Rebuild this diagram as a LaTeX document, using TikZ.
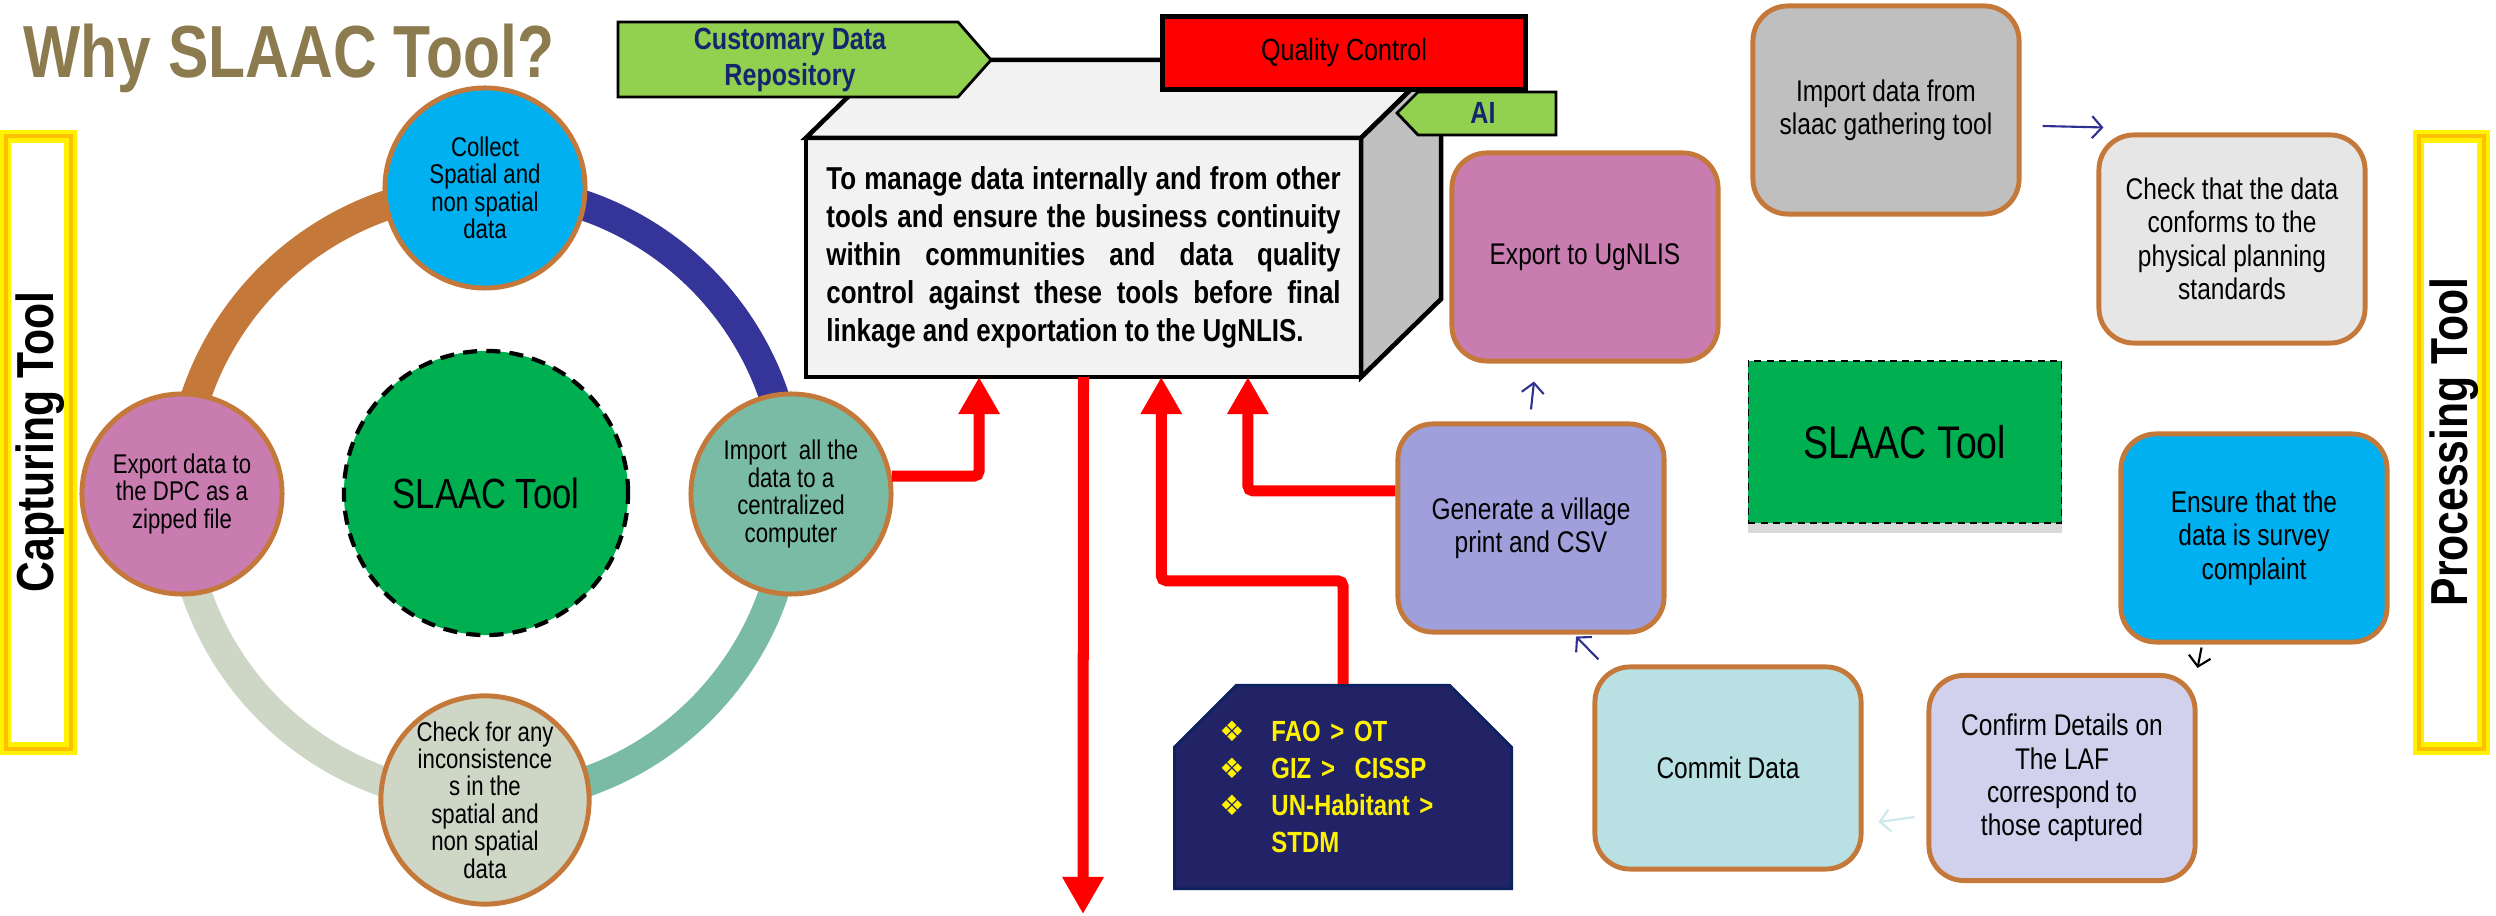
\documentclass[tikz,border=0pt]{standalone}
\usepackage{fontspec}
\setmainfont{Liberation Sans}[FakeStretch=0.82]
\newfontfamily\symfont{DejaVu Sans}
\usepackage{tikz}
\usetikzlibrary{arrows.meta,shapes.misc,shadows,calc}

\definecolor{rim}{RGB}{196,121,58}
\definecolor{navyarc}{RGB}{53,52,152}
\definecolor{tealc}{RGB}{122,187,165}
\definecolor{palec}{RGB}{206,214,198}
\definecolor{skyc}{RGB}{0,176,240}
\definecolor{pinkc}{RGB}{201,124,176}
\definecolor{grassc}{RGB}{0,176,80}
\definecolor{leafc}{RGB}{146,208,80}
\definecolor{inkc}{RGB}{20,38,110}
\definecolor{olivec}{RGB}{141,123,80}
\definecolor{graybox}{RGB}{191,191,191}
\definecolor{lightbox}{RGB}{230,230,230}
\definecolor{lilac}{RGB}{159,159,220}
\definecolor{aqua}{RGB}{185,224,226}
\definecolor{lavender}{RGB}{209,209,238}
\definecolor{listnavy}{RGB}{34,34,102}
\definecolor{listedge}{RGB}{14,34,96}
\definecolor{cubefront}{RGB}{242,242,242}
\definecolor{cubeside}{RGB}{192,192,192}
\definecolor{arrownavy}{RGB}{46,49,146}
\definecolor{mist}{RGB}{205,232,236}
\definecolor{goldc}{RGB}{255,192,0}

\newcommand{\bul}{\makebox[0.52cm][l]{\symfont\fontsize{8}{8}\selectfont ❖}}

\tikzset{
  ring/.style={line width=0.3cm},
  stepcirc/.style={circle,draw=rim,line width=1.4pt,minimum size=2cm,inner sep=0pt,align=center,
    font=\fontsize{7.7}{7.8}\selectfont},
  stepbox/.style={draw=rim,line width=1.4pt,rounded corners=0.35cm,minimum width=2.66cm,
    minimum height=2.08cm,align=center,font=\fontsize{8.5}{9.5}\selectfont},
  redline/.style={draw=red,line width=0.11cm,rounded corners=1.5pt,
    -{Triangle[width=0.39cm,length=0.37cm]}},
  thinarrow/.style={line width=0.6pt,-{Straight Barb[length=0.1cm,width=0.22cm]}},
  tagline/.style={draw=black,line width=0.8pt},
  tagtext/.style={text=inkc,align=center,font=\fontsize{8.7}{10}\selectfont\bfseries},
  cubeline/.style={draw=black,line width=1.3pt,line join=miter}
}

\begin{document}
\begin{tikzpicture}[x=0.01cm,y=-0.01cm]
    \useasboundingbox (0,0) rectangle (2496,916);
    \def\toolframe#1{\fill[yellow] (#1,130) rectangle ++(77,625);
      \draw[goldc,line width=1.2pt] (#1+6,136) rectangle ++(65,613);
      \fill[white] (#1+11,143) rectangle ++(53,599);}

    \node[anchor=base west,inner sep=0pt,text=olivec,font=\fontsize{21}{21}\selectfont\bfseries] (title) at (23,78) {Why SLAAC Tool?};

    \toolframe{0}
    \toolframe{2413}
    \node[rotate=90,font=\fontsize{14.8}{15}\selectfont\bfseries] (captool) at (40,442) {Capturing Tool};
    \node[rotate=90,font=\fontsize{14.8}{15}\selectfont\bfseries] (proctool) at (2454,442) {Processing Tool};

    \coordinate (hub) at (485,494);
    \draw[ring,rim] (hub) ++(180:305) arc[start angle=180,end angle=270,radius=305];
    \draw[ring,navyarc] (hub) ++(270:305) arc[start angle=270,end angle=360,radius=305];
    \draw[ring,tealc] (hub) ++(0:305) arc[start angle=0,end angle=90,radius=305];
    \draw[ring,palec] (hub) ++(90:305) arc[start angle=90,end angle=180,radius=305];

    \node[stepcirc,fill=skyc] (collect) at (485,188) {Collect\\Spatial and\\non spatial\\data};
    \node[stepcirc,fill=tealc] (importc) at (791,494) {Import\ \ all the\\data to a\\centralized\\computer};
    \node[stepcirc,fill=palec] (checkc) at (485,800) {Check for any\\inconsistence\\s in the\\spatial and\\non spatial\\data};
    \node[stepcirc,fill=pinkc] (exportc) at (182,494) {Export data to\\the DPC as a\\zipped file};
    \node[circle,draw=black,line width=1.2pt,dash pattern=on 4pt off 2.6pt,fill=grassc,minimum size=2.84cm,
      font=\fontsize{12}{12}\selectfont] (slaac) at (486,493) {SLAAC Tool};

    \node[cubeline,fill=cubefront,outer sep=0pt,minimum width=5.55cm,minimum height=2.39cm,text width=5.14cm,
      align=justify,font=\fontsize{9}{10.8}\selectfont\bfseries] (box) at (1083.5,257.5)
      {To manage data internally and from other\linebreak tools and ensure the business continuity\linebreak
       within communities and data quality\linebreak control against these tools before final\linebreak
       linkage and exportation to the UgNLIS.};
    \draw[cubeline,fill=cubefront] (box.north west) -- ++(80,-78) -- ++(555,0) -- (box.north east) -- cycle;
    \draw[cubeline,fill=cubeside] (box.north east) -- ++(80,-78) -- ++(0,239) -- (box.south east) -- cycle;

    \draw[tagline,fill=leafc] (618,22) -- (958,22) -- (991,60) -- (958,97) -- (618,97) -- cycle;
    \node[tagtext] (cdr) at (790,60) {Customary Data\\Repository};
    \node[draw=black,line width=1.4pt,fill=red,minimum width=3.62cm,minimum height=0.73cm,
      font=\fontsize{8.7}{10}\selectfont] (qc) at (1344,53) {Quality Control};
    \draw[tagline,fill=leafc] (1397,113) -- (1418,92) -- (1556,92) -- (1556,135) -- (1418,135) -- cycle;
    \node[tagtext] (ai) at (1483,113) {AI};

    \node[stepbox,fill=graybox] (importd) at (1886,110) {Import data from\\slaac gathering tool};
    \node[stepbox,fill=lightbox] (checkd) at (2232,239) {Check that the data\\conforms to the\\physical planning\\standards};
    \node[stepbox,fill=pinkc] (exportu) at (1585,257) {Export to UgNLIS};
    \node[stepbox,fill=lilac] (gen) at (1531,528) {Generate a village\\print and CSV};
    \node[stepbox,fill=skyc] (ensure) at (2254,538) {Ensure that the\\data is survey\\complaint};
    \node[stepbox,fill=aqua,minimum height=2.02cm] (commit) at (1728,768) {Commit Data};
    \node[stepbox,fill=lavender,minimum height=2.05cm] (confirm) at (2062,778) {Confirm Details on\\The LAF\\correspond to\\those captured};
    \node[draw=black,dash pattern=on 2pt off 1.5pt,line width=0.5pt,fill=grassc,minimum width=3.13cm,minimum height=1.62cm,
      drop shadow={shadow xshift=0cm,shadow yshift=-0.1cm,opacity=0.3},
      font=\fontsize{13}{13}\selectfont] (slaacr) at (1905,442) {SLAAC Tool};

    \node[chamfered rectangle,chamfered rectangle corners={north west,north east},
      chamfered rectangle xsep=0.31cm,chamfered rectangle ysep=0.31cm,
      fill=listnavy,draw=listedge,line width=0.8pt,minimum width=2.75cm,minimum height=1.2cm,
      text width=2.47cm,inner xsep=0.14cm,inner ysep=0.05cm,align=left,text=yellow,
      font=\fontsize{8.3}{10.5}\selectfont\bfseries] (list) at (1343,787)
      {\bul FAO > OT\\ \bul GIZ >\ \ CISSP\\ \bul UN-Habitant >\\ \hspace*{0.52cm}STDM};

    \coordinate (outlet) at (1083,914);
    \draw[redline] (importc.10) -| ($(box.south west)!0.312!(box.south east)$);
    \draw[redline] (list.north) -- ++(0,-103) -| ($(box.south west)!0.64!(box.south east)$);
    \draw[redline] ([yshift=0.37cm]gen.west) -| ($(box.south west)!0.796!(box.south east)$);
    \draw[redline] (box.south) -- (outlet);

    \draw[thinarrow,arrownavy] ([shift={(0.21cm,-0.16cm)}]importd.east) -- ([shift={(0.07cm,0.05cm)}]checkd.north west);
    \draw[thinarrow,black] ([shift={(0.83cm,-0.03cm)}]ensure.south west) -- ([yshift=0.05cm]confirm.north east);
    \draw[thinarrow,mist] ([shift={(-0.12cm,-0.39cm)}]confirm.west) -- ([shift={(0.15cm,-0.54cm)}]commit.east);
    \draw[thinarrow,arrownavy] ([shift={(0.06cm,0.05cm)}]commit.north west) -- ([shift={(0.45cm,-0.02cm)}]gen.south);
    \draw[thinarrow,arrownavy] ([yshift=0.12cm]gen.north) -- ([shift={(-0.51cm,-0.18cm)}]exportu.south);
\end{tikzpicture}
\end{document}
